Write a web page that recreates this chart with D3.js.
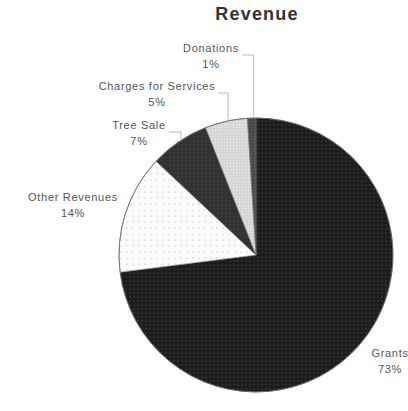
<!DOCTYPE html>
<html>
<head>
<meta charset="utf-8">
<script src="https://cdn.jsdelivr.net/npm/d3@7"></script>
<style>
  body { margin: 0; background: #fff; }
  text { font-family: "Liberation Sans", Arial, sans-serif; }
</style>
</head>
<body>
<svg width="408" height="411"></svg>
<script>
// data
const categories = ["Grants", "Other Revenues", "Tree Sale", "Charges for Services", "Donations"];
const shares = [73, 14, 7, 5, 1];

const svg = d3.select("svg");
const cx = 256, cy = 255, radius = 137;

// fill patterns (scanned halftone look)
const fills = [
    { id: "pGrants", bg: "#1d1b1b", dot: "#4a4848", step: 4, r: 0.7 },
    { id: "pOther", bg: "#fbfbfb", dot: "#9a9a9a", step: 6, r: 0.5 },
    { id: "pTree", bg: "#333131", dot: "#555", step: 4, r: 0.6 },
    { id: "pCharges", bg: "#d6d6d6", dot: "#f2f2f2", step: 3, r: 0.6 },
    { id: "pDon", bg: "#4a4a4a", dot: "#666", step: 3, r: 0.5 }
];

const defs = svg.append("defs");
fills.forEach(f => {
    const p = defs.append("pattern")
        .attr("id", f.id)
        .attr("patternUnits", "userSpaceOnUse")
        .attr("width", f.step).attr("height", f.step);
    p.append("rect").attr("width", f.step).attr("height", f.step).attr("fill", f.bg);
    p.append("circle").attr("cx", f.step / 2).attr("cy", f.step / 2).attr("r", f.r).attr("fill", f.dot);
});

// label layout (text centre) and whether a leader line is drawn
const labelLayout = [
    { x: 390, y: 353, leader: false },
    { x: 73, y: 197, leader: false },
    { x: 139, y: 125, leader: true },
    { x: 157, y: 86, leader: true },
    { x: 211, y: 48, leader: true }
];

const pie = d3.pie().sort(null).value(d => d.value);
const arcs = pie(categories.map((c, i) => ({ name: c, value: shares[i] })));
const arc = d3.arc().innerRadius(0).outerRadius(radius);

const g = svg.append("g").attr("transform", `translate(${cx},${cy})`);

g.selectAll("path.slice")
    .data(arcs)
    .enter().append("path")
    .attr("class", "slice")
    .attr("d", arc)
    .attr("fill", (d, i) => `url(#${fills[i].id})`)
    .attr("stroke", "#777")
    .attr("stroke-width", 0.6);

// outline of the pie
g.append("circle").attr("r", radius).attr("fill", "none").attr("stroke", "#666").attr("stroke-width", 0.8);

// labels
const edgeArc = d3.arc().innerRadius(radius).outerRadius(radius);
arcs.forEach((d, i) => {
    const lay = labelLayout[i];
    const t = svg.append("text")
        .attr("text-anchor", "middle")
        .attr("font-size", 11)
        .attr("letter-spacing", 0.7)
        .attr("fill", "#555");
    const name = t.append("tspan").attr("x", lay.x).attr("y", lay.y + 4).text(d.data.name);
    t.append("tspan").attr("x", lay.x).attr("y", lay.y + 20).text(d.data.value + "%");

    // leader line: from the end of the name across, then down to the slice
    if (lay.leader) {
        const [ex, ey] = edgeArc.centroid(d);
        const px = ex + cx + 2, py = ey + cy;
        const startX = lay.x + name.node().getComputedTextLength() / 2 + 3;
        const startY = lay.y + 7;
        svg.append("path")
            .attr("d", `M${startX},${startY}H${px}V${py}`)
            .attr("fill", "none")
            .attr("stroke", "#aaa")
            .attr("stroke-width", 0.8);
    }
});

// title
svg.append("text")
    .attr("x", 257).attr("y", 20)
    .attr("text-anchor", "middle")
    .attr("font-size", 18)
    .attr("letter-spacing", 1.2)
    .attr("font-weight", "bold")
    .attr("fill", "#333")
    .text("Revenue");
</script>
</body>
</html>
